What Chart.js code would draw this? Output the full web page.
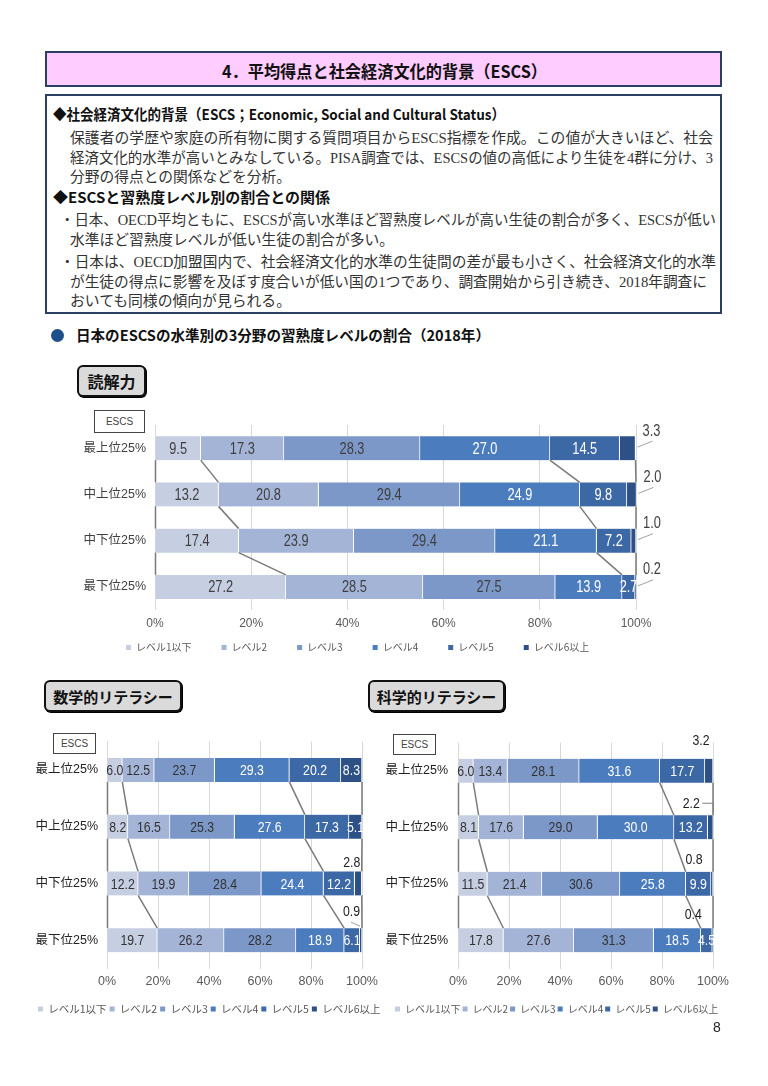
<!DOCTYPE html>
<html><head><meta charset="utf-8">
<script src="https://cdn.jsdelivr.net/npm/chart.js@4.4.1/dist/chart.umd.min.js"></script>
<style>
html,body{margin:0;padding:0;background:#fff;}
#page{position:relative;width:768px;height:1086px;overflow:hidden;font-family:'Noto Sans CJK JP',sans-serif;color:#222;}
.t{position:absolute;white-space:nowrap;transform-origin:0 50%;line-height:1;}
.frame{position:absolute;box-sizing:border-box;border:2px solid #2c3f63;}
.tab{position:absolute;box-sizing:border-box;border:2.5px solid #111;border-radius:6px;background:#dadada;font-weight:700;font-size:15px;display:flex;align-items:center;justify-content:center;box-shadow:1px 1px 0 #000;color:#111;}
.escs{position:absolute;box-sizing:border-box;border:1px solid #444;background:#fff;font-family:'Liberation Sans','Noto Sans CJK JP',sans-serif;font-size:10px;color:#444;display:flex;align-items:center;justify-content:center;}
canvas{position:absolute;}
</style></head>
<body>
<div id="page">
  <div class="frame" style="left:45px;top:51px;width:677px;height:36px;background:#ffccff;"></div>
  <div class="frame" style="left:45px;top:94px;width:677px;height:220px;background:#fff;"></div>
  <div style="position:absolute;left:51px;top:329px;width:13px;height:13px;border-radius:50%;background:#1f4e8c;"></div>
  <div class="tab" style="left:77px;top:365px;width:69px;height:32px;font-size:16px;">読解力</div>
  <div class="tab" style="left:44px;top:680px;width:138px;height:32px;">数学的リテラシー</div>
  <div class="tab" style="left:368px;top:680px;width:137px;height:32px;">科学的リテラシー</div>
  <div class="escs" style="left:94px;top:410px;width:51px;height:23px;">ESCS</div>
  <div class="escs" style="left:53px;top:733px;width:43px;height:21px;">ESCS</div>
  <div class="escs" style="left:393px;top:734px;width:43px;height:21px;">ESCS</div>
  <canvas id="c1" width="620" height="285" style="left:60px;top:400px;width:620px;height:285px;"></canvas>
  <canvas id="c2" width="370" height="300" style="left:20px;top:725px;width:370px;height:300px;"></canvas>
  <canvas id="c3" width="360" height="300" style="left:375px;top:725px;width:360px;height:300px;"></canvas>
  <div class="t" style="left:713px;top:1020px;font-size:14px;font-family:'Liberation Sans',sans-serif;color:#222;">8</div>
</div>
<script>
// ---------- data ----------
const categories = ['最上位25%', '中上位25%', '中下位25%', '最下位25%'];
const levelNames = ['レベル1以下', 'レベル2', 'レベル3', 'レベル4', 'レベル5', 'レベル6以上'];
const xTickLabels = ['0%', '20%', '40%', '60%', '80%', '100%'];

const readingL1 = [9.5, 13.2, 17.4, 27.2];
const readingL2 = [17.3, 20.8, 23.9, 28.5];
const readingL3 = [28.3, 29.4, 29.4, 27.5];
const readingL4 = [27.0, 24.9, 21.1, 13.9];
const readingL5 = [14.5, 9.8, 7.2, 2.7];
const readingL6 = [3.3, 2.0, 1.0, 0.2];

const mathL1 = [6.0, 8.2, 12.2, 19.7];
const mathL2 = [12.5, 16.5, 19.9, 26.2];
const mathL3 = [23.7, 25.3, 28.4, 28.2];
const mathL4 = [29.3, 27.6, 24.4, 18.9];
const mathL5 = [20.2, 17.3, 12.2, 6.1];
const mathL6 = [8.3, 5.1, 2.8, 0.9];

const sciL1 = [6.0, 8.1, 11.5, 17.8];
const sciL2 = [13.4, 17.6, 21.4, 27.6];
const sciL3 = [28.1, 29.0, 30.6, 31.3];
const sciL4 = [31.6, 30.0, 25.8, 18.5];
const sciL5 = [17.7, 13.2, 9.9, 4.5];
const sciL6 = [3.2, 2.2, 0.8, 0.4];

// ---------- page text ----------
const textLines = [
  {t:'4．平均得点と社会経済文化的背景（ESCS）', x:222, y:70, s:17, w:700, fit:325},
  {t:'◆社会経済文化的背景（ESCS；Economic, Social and Cultural Status）', x:53, y:114, s:14.5, w:700, fit:452},
  {t:'保護者の学歴や家庭の所有物に関する質問項目からESCS指標を作成。この値が大きいほど、社会', x:70, y:138, s:14.7, fit:643, serif:true},
  {t:'経済文化的水準が高いとみなしている。PISA調査では、ESCSの値の高低により生徒を4群に分け、3', x:70, y:158, s:14.7, fit:643, serif:true},
  {t:'分野の得点との関係などを分析。', x:70, y:177, s:14.7, fit:221, serif:true},
  {t:'◆ESCSと習熟度レベル別の割合との関係', x:53, y:197, s:14.5, w:700, fit:277},
  {t:'・日本、OECD平均ともに、ESCSが高い水準ほど習熟度レベルが高い生徒の割合が多く、ESCSが低い', x:60, y:220, s:14.7, fit:656, serif:true},
  {t:'水準ほど習熟度レベルが低い生徒の割合が多い。', x:70, y:240, s:14.7, fit:324, serif:true},
  {t:'・日本は、OECD加盟国内で、社会経済文化的水準の生徒間の差が最も小さく、社会経済文化的水準', x:60, y:262, s:14.7, fit:656, serif:true},
  {t:'が生徒の得点に影響を及ぼす度合いが低い国の1つであり、調査開始から引き続き、2018年調査に', x:70, y:282, s:14.7, fit:637, serif:true},
  {t:'おいても同様の傾向が見られる。', x:70, y:301, s:14.7, fit:221, serif:true},
  {t:'日本のESCSの水準別の3分野の習熟度レベルの割合（2018年）', x:76, y:335, s:14.5, w:700, fit:414}
];
const page = document.getElementById('page');
textLines.forEach(L => {
  const d = document.createElement('div');
  d.className = 't';
  d.textContent = L.t;
  d.style.left = L.x + 'px';
  d.style.top = (L.y - L.s / 2) + 'px';
  d.style.fontSize = L.s + 'px';
  d.style.fontWeight = L.w || 400;
  d.style.color = L.serif ? '#333' : '#111';
  d.style.fontFamily = L.serif ? "'Liberation Serif','Noto Sans CJK JP',serif" : "'Noto Sans CJK JP',sans-serif";
  page.appendChild(d);
  const w = d.getBoundingClientRect().width;
  if (w > 0) d.style.transform = 'scaleX(' + (L.fit / w) + ')';
});

// ---------- chart helpers ----------
const levelColors = ['#c6cee2', '#a3b4d7', '#7b98c9', '#4b7cbe', '#3c68a6', '#2d5187'];
const SANS = "'Liberation Sans','Noto Sans CJK JP',sans-serif";

function narrowText(ctx, txt, x, y, sx) {
  ctx.save();
  ctx.translate(x, y);
  ctx.scale(sx, 1);
  ctx.fillText(txt, 0, 0);
  ctx.restore();
}

function makeAnnot(cfg) {
  return {
    id: 'annot',
    beforeDraw(chart) {
      const L = chart.legend;
      if (!L) return;
      const h = L.height, w = L.width;
      L.left = cfg.legendLeft; L.right = L.left + w;
      L.top = cfg.legendTop; L.bottom = L.top + h;
    },
    afterDatasetsDraw(chart) {
      const ctx = chart.ctx, n = chart.data.labels.length, area = chart.chartArea;
      const nd = chart.data.datasets.length;
      const el = (k, j) => chart.getDatasetMeta(k).data[j];
      const edgeX = (k, j) => {
        if (k === 'start') return el(0, j).base;
        if (k === 'end') return Math.min(el(nd - 1, j).x, area.right);
        return el(k, j).x;
      };
      ctx.save();
      ctx.strokeStyle = cfg.lineColor; ctx.lineWidth = cfg.lineWidth;
      cfg.seriesLines.forEach(k => {
        for (let j = 0; j < n - 1; j++) {
          const a = el(0, j), b = el(0, j + 1);
          ctx.beginPath();
          ctx.moveTo(edgeX(k, j), a.y + a.height / 2);
          ctx.lineTo(edgeX(k, j + 1), b.y - b.height / 2);
          ctx.stroke();
        }
      });
      ctx.textAlign = 'center'; ctx.textBaseline = 'middle';
      chart.data.datasets.forEach((ds, i) => {
        chart.getDatasetMeta(i).data.forEach((e, j) => {
          const txt = ds.data[j].toFixed(1);
          const out = cfg.outside.find(q => q.ds === i && q.idx === j);
          if (out) {
            if (out.line) {
              ctx.strokeStyle = cfg.leaderColor; ctx.lineWidth = 1;
              ctx.beginPath();
              out.line.forEach((p, m) => { const fn = m ? 'lineTo' : 'moveTo'; ctx[fn](e.x + p[0], e.y + p[1]); });
              ctx.stroke();
            }
            ctx.font = cfg.outFont; ctx.fillStyle = cfg.outColor;
            narrowText(ctx, txt, e.x + out.dx, e.y + out.dy, cfg.sx);
          } else {
            ctx.font = cfg.font; ctx.fillStyle = i < 3 ? cfg.dark : cfg.light;
            narrowText(ctx, txt, (e.x + e.base) / 2, e.y + 1, cfg.sx);
          }
        });
      });
      ctx.restore();
    }
  };
}

function makeChart(id, series, g) {
  return new Chart(document.getElementById(id), {
    type: 'bar',
    data: {
      labels: categories,
      datasets: series.map((d, i) => ({
        label: levelNames[i], data: d, backgroundColor: levelColors[i],
        borderColor: '#ffffff', borderWidth: {left: 0, right: 1, top: 0, bottom: 0},
        borderSkipped: false, barThickness: g.barH, yAxisID: 'y'
      }))
    },
    options: {
      indexAxis: 'y', responsive: false, animation: false, devicePixelRatio: 1,
      layout: {padding: {left: 0, right: 0, top: g.padT, bottom: g.padB}},
      scales: {
        x: {
          stacked: true, min: 0, max: 100, position: 'bottom',
          grid: {color: '#d9d9d9', drawTicks: false, lineWidth: 1},
          border: {display: false},
          ticks: {stepSize: 20, padding: g.tickPad, color: '#595959', font: {family: SANS, size: g.tickSize},
                  callback: (v, i) => xTickLabels[i]},
          afterFit: s => { s.height = g.xH; }
        },
        y: {
          stacked: true, grid: {display: false, drawTicks: false}, border: {display: false},
          ticks: {padding: g.catPad, color: g.catColor, font: {family: SANS, size: g.catSize}},
          afterFit: s => { s.width = g.yW; }
        },
        y2: {
          type: 'category', labels: categories, position: 'right', display: true,
          grid: {display: false, drawTicks: false}, border: {display: false}, ticks: {display: false},
          afterFit: s => { s.width = g.y2W; }
        }
      },
      plugins: {
        tooltip: {enabled: false},
        legend: {
          position: 'bottom', align: 'start',
          labels: {
            boxWidth: 5, boxHeight: 5, padding: g.legPad, color: '#595959',
            font: {family: "'Noto Sans CJK JP',sans-serif", size: g.legSize},
            generateLabels: chart => chart.data.datasets.map((ds, i) => ({
              text: ds.label, fillStyle: ds.backgroundColor, strokeStyle: ds.backgroundColor,
              lineWidth: 0, hidden: false, datasetIndex: i, fontColor: '#595959'
            }))
          }
        }
      }
    },
    plugins: [makeAnnot(g.annot)]
  });
}

// ---------- charts ----------
makeChart('c1', [readingL1, readingL2, readingL3, readingL4, readingL5, readingL6], {
  barH: 24, padT: 25, padB: 0, yW: 95, y2W: 44, xH: 25,
  tickPad: 6, tickSize: 12, catPad: 9, catSize: 12.5, catColor: '#404040',
  legPad: 30, legSize: 10,
  annot: {
    legendLeft: 96 - 60, legendTop: 612.5 - 400,
    seriesLines: ['start', 0, 3, 'end'], lineColor: '#7a7a7a', lineWidth: 1.5, leaderColor: '#a0a0a0',
    font: '16px ' + SANS, outFont: '16px ' + SANS, sx: 0.8, dark: '#404040', light: '#ffffff', outColor: '#404040',
    outside: [0, 1, 2, 3].map(j => ({ds: 5, idx: j, dx: 16, dy: -17, line: [[2, -1], [17, -7]]}))
  }
});

makeChart('c2', [mathL1, mathL2, mathL3, mathL4, mathL5, mathL6], {
  barH: 24, padT: 15.5, padB: 8, yW: 87, y2W: 28, xH: 25,
  tickPad: 5.5, tickSize: 12.5, catPad: 9, catSize: 12.5, catColor: '#222',
  legPad: 3, legSize: 10.5,
  annot: {
    legendLeft: 35 - 20, legendTop: 1000.75 - 725,
    seriesLines: ['start', 0, 3, 'end'], lineColor: '#7a7a7a', lineWidth: 1.5, leaderColor: '#a0a0a0',
    font: '15px ' + SANS, outFont: '15px ' + SANS, sx: 0.82, dark: '#333333', light: '#ffffff', outColor: '#222222',
    outside: [
      {ds: 5, idx: 2, dx: -10, dy: -21},
      {ds: 5, idx: 3, dx: -10.5, dy: -28, line: [[-11, -18], [-2, -14]]}
    ]
  }
});

makeChart('c3', [sciL1, sciL2, sciL3, sciL4, sciL5, sciL6], {
  barH: 24, padT: 15.5, padB: 9.5, yW: 83, y2W: 22, xH: 25,
  tickPad: 5.5, tickSize: 12.5, catPad: 10, catSize: 12.5, catColor: '#222',
  legPad: 2, legSize: 10,
  annot: {
    legendLeft: 393 - 375, legendTop: 1002 - 725,
    seriesLines: ['start', 0, 3, 'end'], lineColor: '#7a7a7a', lineWidth: 1.5, leaderColor: '#808080',
    font: '15px ' + SANS, outFont: '15px ' + SANS, sx: 0.82, dark: '#333333', light: '#ffffff', outColor: '#222222',
    outside: [
      {ds: 5, idx: 0, dx: -12, dy: -30},
      {ds: 5, idx: 1, dx: -22, dy: -23, line: [[-11, -24], [0, -24], [0, -14]]},
      {ds: 5, idx: 2, dx: -19, dy: -24},
      {ds: 5, idx: 3, dx: -20, dy: -25}
    ]
  }
});
</script>
</body></html>
